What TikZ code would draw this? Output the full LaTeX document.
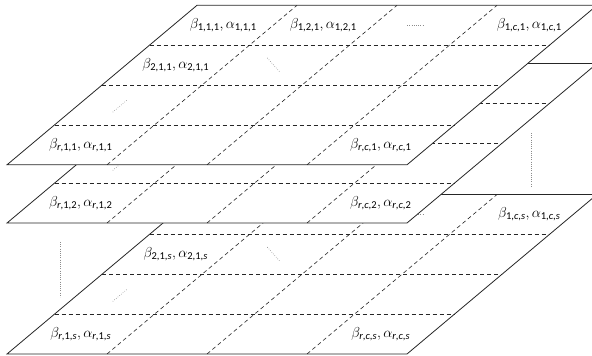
\documentclass[tikz,border=0pt]{standalone}
\usepackage{fontspec}
\usepackage{amsmath}
\newfontfamily\calib{Carlito}
\tikzset{
  edge/.style={line width=0.8pt, draw=black!85},
  gridline/.style={line width=0.6pt, draw=black!85, dash pattern=on 4pt off 3pt},
  ell/.style={line width=0.6pt, draw=black!45, dash pattern=on 0.6pt off 1.6pt},
  lab/.style={inner sep=0pt, font=\fontsize{15}{17}\selectfont},
}
\newcommand\pair[1]{$\beta_{\text{\calib #1}},\alpha_{\text{\calib #1}}$}
\newcommand\drawlayer[4]{%
  \begin{scope}[shift={(7,#1)}, x={(100pt,0pt)}, y={(47.5pt,39.875pt)}]
    \fill[white] (0,0) -- (4,0) -- (4,4) -- (0,4) -- cycle;
    \foreach \v in {1,2,3} \draw[gridline] (0,\v) -- (4,\v);
    \foreach \u in {1,2,3} \draw[gridline] (\u,0) -- (\u,4);
    \draw[edge] (0,0) -- (4,0) -- (4,4) -- (0,4) -- cycle;
    \node[lab] (a11#3) at (0.5,3.5) {\pair{1,1,#2}};
    \node[lab] (a12#3) at (1.5,3.5) {\pair{1,2,#2}};
    #4
    \node[lab] (a21#3) at (0.5,2.5) {\pair{2,1,#2}};
    \node[lab] (ar1#3) at (0.5,0.5) {\pair{\textit{r},1,#2}};
    \node[lab] (arc#3) at (3.5,0.5) {\pair{\textit{r},\textit{c},#2}};
    \draw[ell] (2.34,3.5) -- (2.5,3.5);
    \draw[ell] (1.33,2.68) -- (1.62,2.33);
    \draw[ell] (0.43,1.32) -- (0.43,1.63);
  \end{scope}}
\begin{document}
\begin{tikzpicture}[x=1pt,y=-1pt]
  \useasboundingbox (0,0) rectangle (592,356);
  \drawlayer{354}{\textit{s}}{s}{\node[lab] (a1cs) at (3.56,3.5) {\pair{1,\textit{c},\textit{s}}};}
  \drawlayer{223}{2}{two}{}
  \drawlayer{164.8}{1}{one}{\node[lab] (a1cone) at (3.56,3.5) {\pair{1,\textit{c},1}};}
  \draw[ell] (531,133) -- (531,187);
  \draw[ell] (60,242) -- (60,297);
\end{tikzpicture}
\end{document}
